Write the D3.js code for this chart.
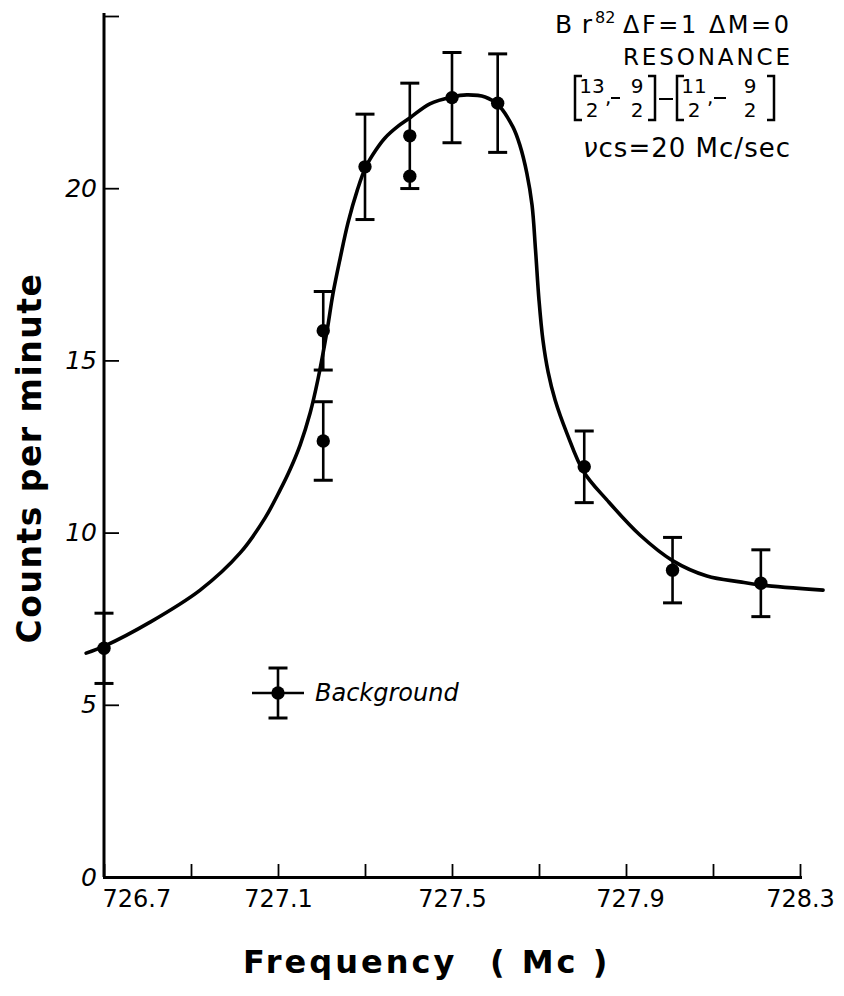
<!DOCTYPE html>
<html><head><meta charset="utf-8">
<script src="https://cdn.jsdelivr.net/npm/d3@7"></script>
<style>body{margin:0;background:#fff} svg{display:block;background:#fff}</style>
</head><body>
<svg id="c" width="844" height="996"></svg>
<script>
// ---- data ----
const freq   = [726.700, 727.204, 727.204, 727.300, 727.403, 727.403, 727.500, 727.605, 727.804, 728.007, 728.210];
const counts = [6.64, 15.86, 12.66, 20.62, 21.52, 20.35, 22.63, 22.47, 11.91, 8.91, 8.53];
const errors = [1.02, 1.14, 1.14, 1.53, 1.53, 0, 1.31, 1.43, 1.04, 0.95, 0.97];

const curveFreq   = [726.659, 726.702, 726.806, 726.921, 727.013, 727.070, 727.105, 727.128, 727.151, 727.174,
                     727.192, 727.213, 727.226, 727.243, 727.261, 727.282, 727.302, 727.325, 727.346, 727.374,
                     727.403, 727.449, 727.500, 727.534, 727.576, 727.606, 727.640, 727.656, 727.672, 727.684,
                     727.692, 727.700, 727.709, 727.721, 727.737, 727.764, 727.803, 727.856, 727.932, 728.008,
                     728.086, 728.162, 728.210, 728.353];
const curveCounts = [6.50, 6.71, 7.40, 8.33, 9.41, 10.42, 11.24, 11.84, 12.55, 13.48,
                     14.46, 15.88, 16.91, 17.97, 19.00, 19.93, 20.62, 21.11, 21.46, 21.78,
                     22.04, 22.45, 22.65, 22.71, 22.65, 22.42, 21.78, 21.25, 20.44, 19.51,
                     18.21, 16.75, 15.59, 14.66, 13.85, 12.89, 11.76, 10.95, 9.93, 9.18,
                     8.74, 8.57, 8.48, 8.33];

const xTicks = [726.7, 726.9, 727.1, 727.3, 727.5, 727.7, 727.9, 728.1, 728.3];
const xTickLabels = ["726.7", "", "727.1", "", "727.5", "", "727.9", "", "728.3"];
const yTicks = [0, 5, 10, 15, 20, 25];
const yTickLabels = ["0", "5", "10", "15", "20", ""];

const xTitle = ["Frequency", "( Mc )"];
const yTitle = "Counts per minute";
const legendLabel = "Background";

// ---- drawing ----
const svg = d3.select("#c");
const FONT = "'DejaVu Sans', sans-serif";
const x = d3.scaleLinear().domain([726.7, 728.3]).range([104, 800]);
const y = d3.scaleLinear().domain([0, 25]).range([877, 16]);

// axes
const xAxis = d3.axisBottom(x).tickValues(xTicks).tickSizeInner(-13).tickSizeOuter(0)
  .tickPadding(13).tickFormat((d, i) => xTickLabels[i]);
const gx = svg.append("g").attr("transform", `translate(0,${y(0)})`).call(xAxis);
gx.select(".domain").attr("stroke-width", 3).attr("stroke", "#000").attr("stroke-linecap", "square");
gx.selectAll(".tick line").attr("stroke-width", 1.8);
gx.selectAll(".tick text").attr("font-family", FONT).attr("font-size", 24).attr("fill", "#000")
  .attr("dx", (d, i) => i === 0 ? "-2" : (i === 6 ? "4" : "0"))
  .attr("text-anchor", (d, i) => i === 0 ? "start" : "middle");

const yAxis = d3.axisLeft(y).tickValues(yTicks).tickSizeInner(-15).tickSizeOuter(0)
  .tickPadding(7).tickFormat((d, i) => yTickLabels[i]);
const gy = svg.append("g").attr("transform", `translate(${x(726.7)},0)`).call(yAxis);
gy.select(".domain").attr("stroke-width", 3).attr("stroke", "#000")
  .attr("d", `M0,${y(0)}V13`);
gy.selectAll(".tick line").attr("stroke-width", 1.8);
gy.selectAll(".tick text").attr("font-family", FONT).attr("font-size", 25).attr("fill", "#000")
  .attr("font-style", "italic");

// fitted curve
const line = d3.line().x(d => x(d[0])).y(d => y(d[1])).curve(d3.curveCatmullRom.alpha(0.5));
svg.append("path").datum(curveFreq.map((f, i) => [f, curveCounts[i]]))
  .attr("d", line).attr("fill", "none").attr("stroke", "#000").attr("stroke-width", 3.6)
  .attr("stroke-linecap", "round");

// error bars & points
const pts = freq.map((f, i) => ({f, c: counts[i], e: errors[i]}));
const capW = 9.5;
const eb = svg.append("g").attr("stroke", "#000");
pts.filter(p => p.e > 0).forEach(p => {
  const cx = x(p.f);
  eb.append("line").attr("x1", cx).attr("x2", cx).attr("y1", y(p.c + p.e)).attr("y2", y(p.c - p.e)).attr("stroke-width", 2.6);
  [p.c + p.e, p.c - p.e].forEach(v => eb.append("line").attr("x1", cx - capW).attr("x2", cx + capW)
    .attr("y1", y(v)).attr("y2", y(v)).attr("stroke-width", 3));
});
svg.append("g").selectAll("circle").data(pts).join("circle")
  .attr("cx", p => x(p.f)).attr("cy", p => y(p.c)).attr("r", 6.7).attr("fill", "#000");

// legend
const lg = svg.append("g").attr("transform", "translate(278,693)").attr("stroke", "#000");
lg.append("line").attr("x1", -26).attr("x2", 26).attr("y1", 0).attr("y2", 0).attr("stroke-width", 2.6);
lg.append("line").attr("x1", 0).attr("x2", 0).attr("y1", -25).attr("y2", 25).attr("stroke-width", 2.6);
[-25, 25].forEach(v => lg.append("line").attr("x1", -capW).attr("x2", capW).attr("y1", v).attr("y2", v).attr("stroke-width", 3));
lg.append("circle").attr("r", 6.7).attr("fill", "#000").attr("stroke", "none");
svg.append("text").attr("x", 315).attr("y", 701).attr("font-family", FONT).attr("font-size", 24)
  .attr("font-style", "italic").text(legendLabel);

// axis titles
svg.append("text").attr("transform", "translate(41,458) rotate(-90)").attr("text-anchor", "middle")
  .attr("font-family", FONT).attr("font-weight", "bold").attr("font-size", 33)
  .attr("letter-spacing", 1.5).text(yTitle);
svg.append("text").attr("x", 243).attr("y", 973).attr("font-family", FONT).attr("font-weight", "bold")
  .attr("font-size", 32).attr("letter-spacing", 3).text(xTitle[0]);
svg.append("text").attr("x", 490).attr("y", 973).attr("font-family", FONT).attr("font-weight", "bold")
  .attr("font-size", 32).attr("letter-spacing", 3).text(xTitle[1]);

// annotation
const ann = svg.append("g").attr("font-family", FONT).attr("fill", "#000");
ann.append("text").attr("x", 555).attr("y", 33).attr("font-size", 25)
  .attr("textLength", 37).attr("lengthAdjust", "spacing").text("Br");
ann.append("text").attr("x", 595).attr("y", 23).attr("font-size", 16).text("82");
ann.append("text").attr("x", 623).attr("y", 33).attr("font-size", 24)
  .attr("textLength", 166).attr("lengthAdjust", "spacing").text("ΔF=1 ΔM=0");
ann.append("text").attr("x", 623).attr("y", 65).attr("font-size", 23)
  .attr("textLength", 167).attr("lengthAdjust", "spacing").text("RESONANCE");
const t4 = ann.append("text").attr("x", 583).attr("y", 157).attr("font-size", 26)
  .attr("textLength", 207).attr("lengthAdjust", "spacing");
t4.append("tspan").attr("font-style", "italic").text("ν");
t4.append("tspan").text("cs=20 Mc/sec");

// bracketed fractions
const br = ann.append("g").attr("stroke", "#000").attr("fill", "none").attr("stroke-width", 2.5);
br.append("path").attr("d", "M582,76H575V120H582");
br.append("path").attr("d", "M648,76H655V120H648");
br.append("path").attr("d", "M684,76H677V120H684");
br.append("path").attr("d", "M767,76H774V120H767");
br.append("path").attr("d", "M611,98H620M659,99H673M714,98H726").attr("stroke-width", 2);
const fr = [["13", 592], ["9", 637], ["11", 694], ["9", 750]];
fr.forEach(([n, cx]) => {
  ann.append("text").attr("x", cx).attr("y", 93).attr("font-size", 20).attr("text-anchor", "middle").text(n);
  ann.append("text").attr("x", cx).attr("y", 117).attr("font-size", 20).attr("text-anchor", "middle").text("2");
});
ann.append("text").attr("x", 605).attr("y", 104).attr("font-size", 20).text(",");
ann.append("text").attr("x", 707).attr("y", 104).attr("font-size", 20).text(",");
</script>
</body></html>
